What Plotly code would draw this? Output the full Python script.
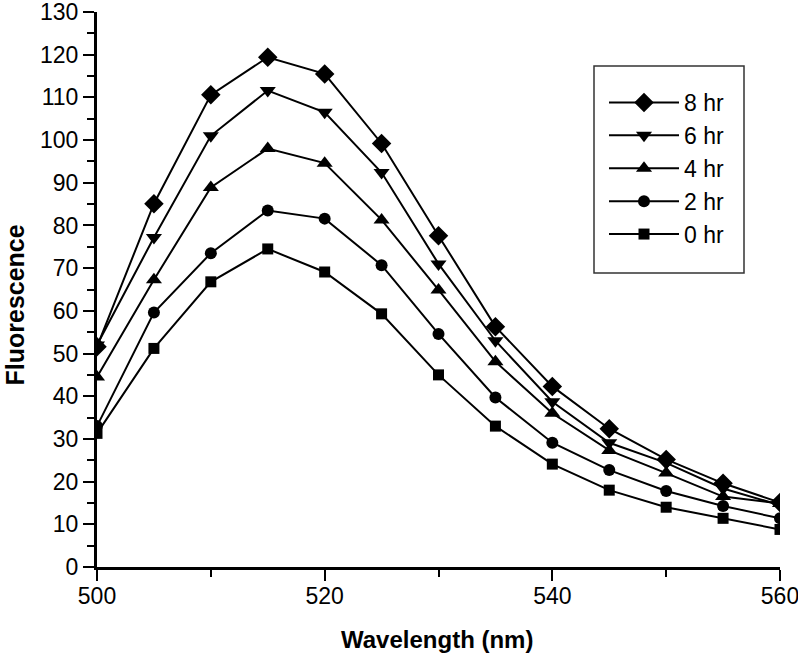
import plotly.graph_objects as go

wavelength = [500, 505, 510, 515, 520, 525, 530, 535, 540, 545, 550, 555, 560]
hr0 = [31.3, 51.2, 66.8, 74.5, 69.1, 59.3, 45.0, 33.0, 24.1, 18.0, 14.0, 11.4, 8.8]
hr2 = [33.0, 59.6, 73.5, 83.5, 81.6, 70.7, 54.6, 39.7, 29.1, 22.7, 17.8, 14.3, 11.4]
hr4 = [44.5, 67.3, 88.9, 98.0, 94.6, 81.3, 64.9, 48.1, 36.0, 27.3, 22.0, 16.5, 14.9]
hr6 = [52.0, 77.2, 101.0, 111.6, 106.5, 92.4, 71.0, 53.0, 38.7, 29.1, 24.4, 18.4, 14.5]
hr8 = [51.6, 85.1, 110.6, 119.4, 115.5, 99.2, 77.6, 56.3, 42.3, 32.4, 25.2, 19.6, 15.1]

series = [
    ("8 hr", hr8, "diamond", 15),
    ("6 hr", hr6, "triangle-down", 14),
    ("4 hr", hr4, "triangle-up", 14),
    ("2 hr", hr2, "circle", 12),
    ("0 hr", hr0, "square", 11),
]

fig = go.Figure()
for name, vals, sym, sz in series:
    fig.add_trace(go.Scatter(
        x=wavelength, y=vals, name=name, mode="lines+markers",
        line=dict(color="black", width=2),
        marker=dict(symbol=sym, size=sz, color="black"),
    ))

font_family = "Liberation Sans, Arial, sans-serif"
L, T, PW, PH = 97, 12, 683, 555  # plot area in window pixels


def px_x(x):
    return (x - L) / PW


def px_y(y):
    return 1 - (y - T) / PH


fig.update_layout(
    width=798, height=654,
    margin=dict(l=97, r=18, t=12, b=87, autoexpand=False),
    paper_bgcolor="white", plot_bgcolor="white",
    font=dict(family=font_family, color="black", size=23),
    showlegend=True,
    legend=dict(
        x=px_x(604), y=px_y(81), xanchor="left", yanchor="top",
        bgcolor="rgba(0,0,0,0)", borderwidth=0,
        font=dict(size=23, family=font_family),
        itemwidth=70,
        tracegroupgap=0,
    ),
    xaxis=dict(
        range=[500, 560], showgrid=False, zeroline=False, automargin=False,
        showline=True, linecolor="black", linewidth=3,
        ticks="outside", tickwidth=2, ticklen=11, tickcolor="black",
        tickvals=[500, 520, 540, 560], ticklabeloverflow="allow",
        ticklabelstandoff=-5,
        minor=dict(tickvals=[510, 530, 550], ticks="outside", ticklen=7, tickwidth=2, tickcolor="black"),
        tickfont=dict(size=23),
    ),
    yaxis=dict(
        range=[0, 130], showgrid=False, zeroline=False, automargin=False,
        showline=True, linecolor="black", linewidth=3,
        ticks="outside", tickwidth=2, ticklen=11, tickcolor="black",
        dtick=10, tick0=0, ticklabeloverflow="allow",
        minor=dict(dtick=5, ticks="outside", ticklen=7, tickwidth=2, tickcolor="black"),
        tickfont=dict(size=23),
    ),
    shapes=[dict(
        type="rect", xref="paper", yref="paper",
        x0=px_x(594), x1=px_x(744),
        y0=px_y(273), y1=px_y(66),
        line=dict(color="#333333", width=1.5), fillcolor="rgba(0,0,0,0)",
    )],
    annotations=[
        dict(text="<b>Wavelength (nm)</b>", xref="paper", yref="paper",
             x=px_x(437), y=px_y(639), xanchor="center", yanchor="middle",
             showarrow=False, font=dict(size=24, family=font_family)),
        dict(text="<b>Fluorescence</b>", xref="paper", yref="paper",
             x=px_x(14.5), y=px_y(305), xanchor="center", yanchor="middle",
             textangle=-90, showarrow=False, font=dict(size=25, family=font_family)),
    ],
)

fig.write_html("out.html", config={"displayModeBar": False},
               post_script="document.body.style.margin='0px';")
